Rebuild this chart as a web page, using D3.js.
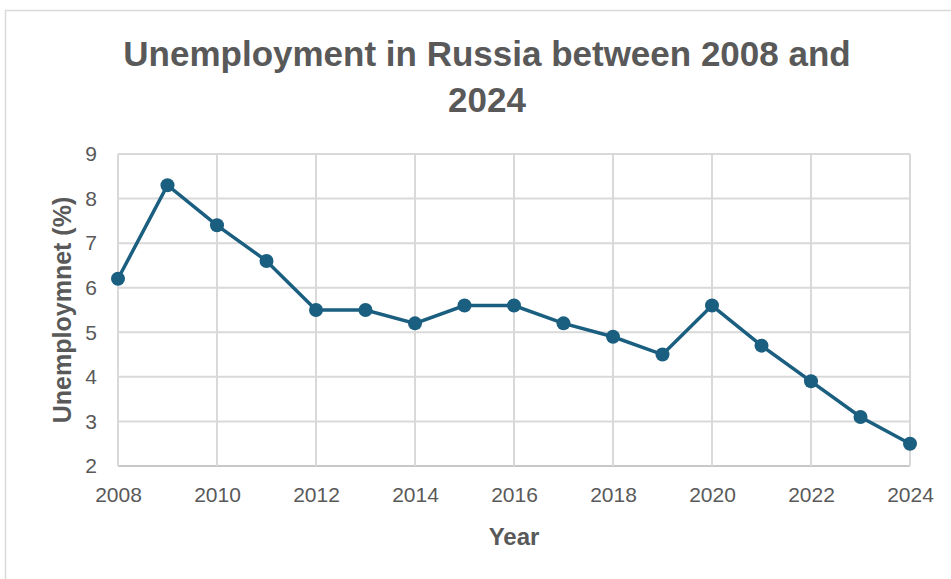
<!DOCTYPE html>
<html>
<head>
<meta charset="utf-8">
<script src="https://cdn.jsdelivr.net/npm/d3@7"></script>
<style>
  body { margin: 0; background: #fff; }
  svg text { font-family: "Liberation Sans", Arial, sans-serif; }
</style>
</head>
<body>
<div class="chart"></div>
<script>
// data
var years = [2008, 2009, 2010, 2011, 2012, 2013, 2014, 2015, 2016, 2017, 2018, 2019, 2020, 2021, 2022, 2023, 2024]
var unemployment = [6.2, 8.3, 7.4, 6.6, 5.5, 5.5, 5.2, 5.6, 5.6, 5.2, 4.9, 4.5, 5.6, 4.7, 3.9, 3.1, 2.5]
var xTicks = [2008, 2010, 2012, 2014, 2016, 2018, 2020, 2022, 2024]
var yTicks = [2, 3, 4, 5, 6, 7, 8, 9]

var width = 951, height = 579
var margin = ({ top: 154, right: 41, bottom: 113, left: 118 })

var svg = d3.select(".chart").append("svg")
    .attr("width", width)
    .attr("height", height)

// chart frame
svg.append("rect")
    .attr("x", 5.5).attr("y", 10.5)
    .attr("width", width + 10).attr("height", height + 10)
    .attr("fill", "none")
    .attr("stroke", "#d9d9d9")
    .attr("stroke-width", 1.5)

var x = d3.scaleLinear()
    .domain([2008, 2024])
    .range([margin.left, width - margin.right])

var y = d3.scaleLinear()
    .domain([2, 9])
    .range([height - margin.bottom, margin.top])

// gridlines
svg.append("g")
    .selectAll("line")
    .data(yTicks)
    .join("line")
    .attr("x1", x(2008)).attr("x2", x(2024))
    .attr("y1", d => y(d)).attr("y2", d => y(d))
    .attr("stroke", d => d == 2 ? "#c8c8c8" : "#d9d9d9")
    .attr("stroke-width", 2)

svg.append("g")
    .selectAll("line")
    .data(xTicks)
    .join("line")
    .attr("x1", d => x(d)).attr("x2", d => x(d))
    .attr("y1", y(2)).attr("y2", y(9))
    .attr("stroke", "#d9d9d9")
    .attr("stroke-width", 2)

// axes
var xAxis = svg.append("g")
    .attr("transform", `translate(0,${y(2)})`)
    .call(d3.axisBottom(x).tickValues(xTicks).tickFormat(d3.format("d")).tickSize(0).tickPadding(21))
xAxis.select(".domain").remove()
xAxis.selectAll("text").attr("fill", "#595959").style("font-size", "21px")

var yAxis = svg.append("g")
    .attr("transform", `translate(${x(2008)},0)`)
    .call(d3.axisLeft(y).tickValues(yTicks).tickFormat(d3.format("d")).tickSize(0).tickPadding(21))
yAxis.select(".domain").remove()
yAxis.selectAll("text").attr("fill", "#595959").style("font-size", "21px")

// line + markers
var line = d3.line()
    .x((d, i) => x(years[i]))
    .y(d => y(d))

svg.append("path")
    .datum(unemployment)
    .attr("fill", "none")
    .attr("stroke", "#1a5e80")
    .attr("stroke-width", 3.5)
    .attr("d", line)

svg.append("g")
    .selectAll("circle")
    .data(unemployment)
    .join("circle")
    .attr("cx", (d, i) => x(years[i]))
    .attr("cy", d => y(d))
    .attr("r", 7)
    .attr("fill", "#1a5e80")

// titles
svg.append("text")
    .attr("x", 487).attr("y", 66)
    .attr("text-anchor", "middle")
    .attr("fill", "#595959")
    .style("font-size", "35px").style("font-weight", "bold")
    .text("Unemployment in Russia between 2008 and")

svg.append("text")
    .attr("x", 487).attr("y", 112)
    .attr("text-anchor", "middle")
    .attr("fill", "#595959")
    .style("font-size", "35px").style("font-weight", "bold")
    .text("2024")

svg.append("text")
    .attr("x", 514).attr("y", 545)
    .attr("text-anchor", "middle")
    .attr("fill", "#595959")
    .style("font-size", "24px").style("font-weight", "bold")
    .text("Year")

svg.append("text")
    .attr("transform", `translate(71,${(y(2) + y(9)) / 2}) rotate(-90)`)
    .attr("text-anchor", "middle")
    .attr("fill", "#595959")
    .style("font-size", "25px").style("font-weight", "bold")
    .text("Unemploymnet (%)")
</script>
</body>
</html>
